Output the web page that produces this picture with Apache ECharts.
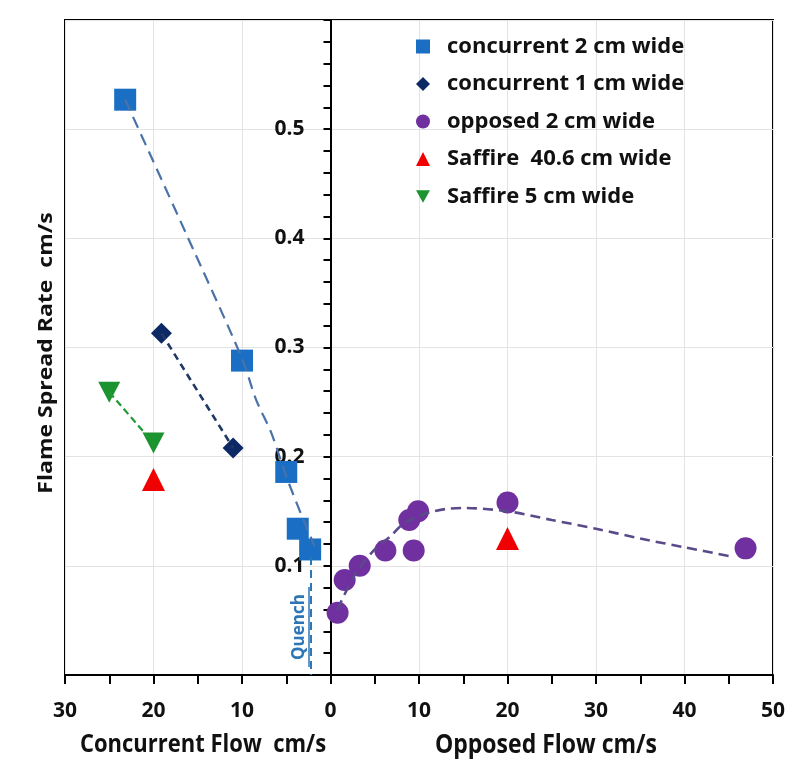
<!DOCTYPE html>
<html>
<head>
<meta charset="utf-8">
<script src="https://cdn.jsdelivr.net/npm/echarts@6/dist/echarts.min.js"></script>
<style>html,body{margin:0;padding:0;background:#fff}#c{width:794px;height:764px}</style>
</head>
<body>
<div id="c"></div>
<script>
// ---- data (flow in cm/s, spread rate in cm/s); concurrent flow plotted to the left of 0 ----
const xTickLabels = ['30','20','10','0','10','20','30','40','50'];
const yTickLabels = ['0.1','0.2','0.3','0.4','0.5'];

const conc2Flow = [23.2, 10.0, 5.0, 3.7, 2.3];
const conc2Rate = [0.527, 0.288, 0.186, 0.134, 0.115];
const conc2TrendFlow = [23.2, 16.3, 10.0, 8.4, 6.7, 5.0, 3.2, 1.8];
const conc2TrendRate = [0.527, 0.404, 0.290, 0.252, 0.222, 0.182, 0.145, 0.118];

const conc1Flow = [19.1, 11.0];
const conc1Rate = [0.313, 0.208];

const oppFlow = [0.8, 1.6, 3.3, 6.2, 8.9, 9.4, 9.9, 20.0, 46.9];
const oppRate = [0.057, 0.087, 0.100, 0.114, 0.142, 0.114, 0.150, 0.158, 0.116];
const oppTrendFlow = [0.8, 1.6, 3.0, 5.0, 6.9, 8.0, 10.0, 11.2, 13.0, 15.0, 20.0, 25.0, 30.0, 35.0, 40.0, 45.0];
const oppTrendRate = [0.060, 0.074, 0.095, 0.115, 0.128, 0.137, 0.146, 0.149, 0.152, 0.153, 0.150, 0.142, 0.134, 0.125, 0.117, 0.109];

const saf40Flow = [-20, 20];   // negative = concurrent
const saf40Rate = [0.179, 0.125];

const saf5Flow = [25, 20];     // concurrent
const saf5Rate = [0.259, 0.2125];

const quenchFlow = 2.2;        // concurrent
const quenchRate = [0.108, 0];

const seriesNames = ['concurrent 2 cm wide','concurrent 1 cm wide','opposed 2 cm wide','Saffire  40.6 cm wide','Saffire 5 cm wide'];

// ---- build ----
const conc = (fx, ry) => fx.map((f, i) => [-f, ry[i]]);
const opp = (fx, ry) => fx.map((f, i) => [f, ry[i]]);

const FONT = '"Open Sans", "DejaVu Sans", sans-serif';
const GRID_L = 65, GRID_R = 21, W = 794;
const xMin = -30, xMax = 50;
const yAxisOffset = -(W - GRID_L - GRID_R) * (0 - xMin) / (xMax - xMin);
const INV_TRI = 'path://M0,0 L10,0 L5,9 Z';

const chart = echarts.init(document.getElementById('c'));
const lineDash = (color, w, dash) => ({
  type: 'line', data: null, symbol: 'none', silent: true, smooth: 0.3,
  lineStyle: { color: color, width: w, type: dash }, z: 3
});

const option = {
  animation: false,
  backgroundColor: '#ffffff',
  grid: { left: GRID_L, right: GRID_R, top: 20, bottom: 89, show: true, borderColor: '#000', borderWidth: 2, containLabel: false },
  xAxis: {
    type: 'value', min: xMin, max: xMax, interval: 10,
    axisLine: { onZero: false, lineStyle: { color: '#000', width: 2 } },
    axisTick: { show: true, length: 9, inside: false, lineStyle: { color: '#000', width: 2 } },
    minorTick: { show: true, splitNumber: 2, length: 9, lineStyle: { color: '#000', width: 2 } },
    splitLine: { show: true, lineStyle: { color: '#e3e3e3', width: 1 } },
    axisLabel: {
      margin: 26, fontSize: 21, fontWeight: 'bold', color: '#111', fontFamily: FONT,
      formatter: v => xTickLabels[Math.round((v - xMin) / 10)]
    }
  },
  yAxis: {
    type: 'value', min: 0, max: 0.6, interval: 0.1, position: 'left', offset: yAxisOffset,
    axisLine: { show: true, onZero: false, lineStyle: { color: '#000', width: 2 } },
    axisTick: { show: true, length: 7, lineStyle: { color: '#000', width: 2 } },
    minorTick: { show: true, splitNumber: 5, length: 7, lineStyle: { color: '#000', width: 2 } },
    splitLine: { show: true, lineStyle: { color: '#e3e3e3', width: 1 } },
    axisLabel: {
      margin: 26, fontSize: 21, fontWeight: 'bold', color: '#111', fontFamily: FONT,
      formatter: v => { const i = Math.round(v * 10) - 1; return (i >= 0 && i < yTickLabels.length) ? yTickLabels[i] : ''; }
    }
  },
  legend: {
    orient: 'vertical', left: 411, top: 30, itemGap: 14.5, itemWidth: 14, itemHeight: 14,
    data: [
      seriesNames[0], seriesNames[1], seriesNames[2], seriesNames[3],
      { name: seriesNames[4], icon: INV_TRI }
    ],
    textStyle: { fontSize: 22, fontWeight: 'bold', color: '#111', fontFamily: FONT, lineHeight: 23, padding: [0, 0, 0, 12] }
  },
  series: [
    Object.assign(lineDash('#4a72a8', 2.2, [12, 7]), { data: conc(conc2TrendFlow, conc2TrendRate) }),
    Object.assign(lineDash('#1f3864', 2.6, [7, 5]), { data: conc(conc1Flow, conc1Rate), smooth: false }),
    Object.assign(lineDash('#5b4a8a', 2.6, [10, 6]), { data: opp(oppTrendFlow, oppTrendRate) }),
    Object.assign(lineDash('#1e9a33', 2.2, [7, 4]), { data: conc(saf5Flow, saf5Rate), smooth: false }),
    Object.assign(lineDash('#2e75b6', 2, [8, 5]), { data: conc([quenchFlow, quenchFlow], quenchRate), smooth: false }),
    { name: seriesNames[0], type: 'scatter', symbol: 'rect', symbolSize: 22,
      itemStyle: { color: '#1a6fc4', opacity: 1 }, data: conc(conc2Flow, conc2Rate), z: 2 },
    { name: seriesNames[1], type: 'scatter', symbol: 'diamond', symbolSize: 21,
      itemStyle: { color: '#0c2865', opacity: 1 }, data: conc(conc1Flow, conc1Rate), z: 2 },
    { name: seriesNames[2], type: 'scatter', symbol: 'circle', symbolSize: 22,
      itemStyle: { color: '#7030a0', opacity: 1 }, data: opp(oppFlow, oppRate), z: 2 },
    { name: seriesNames[3], type: 'scatter', symbol: 'triangle', symbolSize: [23, 23],
      itemStyle: { color: '#f00000', opacity: 1 }, data: saf40Flow.map((f, i) => [f, saf40Rate[i]]), z: 2 },
    { name: seriesNames[4], type: 'scatter', symbol: 'triangle', symbolRotate: 180, symbolSize: [22, 21],
      itemStyle: { color: '#1b9430', opacity: 1 }, data: conc(saf5Flow, saf5Rate), z: 2 }
  ],
  graphic: [
    { type: 'text', x: 46, y: 353, rotation: Math.PI / 2, scaleX: 1.15,
      style: { text: 'Flame Spread Rate  cm/s', fontSize: 20, fontWeight: 'bold', fill: '#111', fontFamily: FONT, align: 'center', verticalAlign: 'middle' } },
    { type: 'text', x: 203, y: 745, scaleY: 1.15,
      style: { text: 'Concurrent Flow  cm/s', fontSize: 22, fontWeight: 'bold', fill: '#111', fontFamily: FONT, align: 'center', verticalAlign: 'middle' } },
    { type: 'text', x: 546, y: 745, scaleY: 1.15,
      style: { text: 'Opposed Flow cm/s', fontSize: 23, fontWeight: 'bold', fill: '#111', fontFamily: FONT, align: 'center', verticalAlign: 'middle' } },
    { type: 'text', x: 299, y: 627, rotation: Math.PI / 2,
      style: { text: 'Quench', fontSize: 17, fontWeight: 'bold', fill: '#2e75b6', fontFamily: FONT, align: 'center', verticalAlign: 'middle' } },
    { type: 'line', shape: { x1: 309, y1: 587, x2: 309, y2: 667 }, style: { stroke: '#2e75b6', lineWidth: 1.5 } }
  ]
};
chart.setOption(option);
</script>
</body>
</html>
